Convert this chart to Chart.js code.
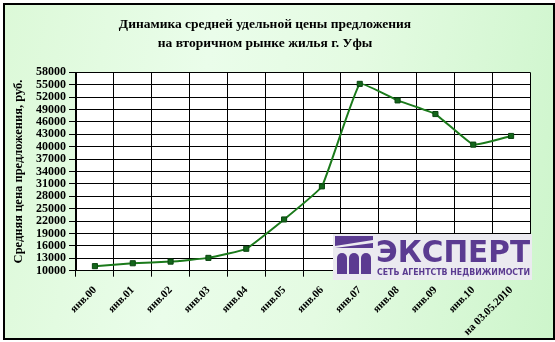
<!DOCTYPE html>
<html>
<head>
<meta charset="utf-8">
<script src="https://cdn.jsdelivr.net/npm/chart.js@4/dist/chart.umd.min.js"></script>
<style>
  body { margin: 0; background: #fff; }
  #box {
    position: absolute; left: 3px; top: 3px; width: 548px; height: 333px;
    border: 2px solid #000;
    background: linear-gradient(100deg, #dcf9d8 0%, #eafdea 35%, #e4fbe2 60%, #cdf5cb 100%);
  }
  #chart { position: absolute; left: 0; top: 0; }
</style>
</head>
<body>
<div id="box"></div>
<canvas id="chart" width="555" height="342"></canvas>
<script>
// data
const labels = ['янв.00', 'янв.01', 'янв.02', 'янв.03', 'янв.04', 'янв.05', 'янв.06',
  'янв.07', 'янв.08', 'янв.09', 'янв.10', 'на 03.05.2010'];
const prices = [11100, 11800, 12200, 13100, 15300, 22400, 30400, 55200, 51200, 47900, 40500, 42600];
const titleLines = ['Динамика средней удельной цены предложения', 'на вторичном рынке жилья г. Уфы'];
const yTitle = 'Средняя цена предложения, руб.';

const serif = "'Liberation Serif', 'Times New Roman', serif";

// white plot background
const plotBg = {
  id: 'plotBg',
  beforeDraw(chart) {
    const a = chart.chartArea, c = chart.ctx;
    c.save();
    c.fillStyle = '#fff';
    c.fillRect(a.left, a.top, a.right - a.left, a.bottom - a.top);
    c.restore();
  }
};

// agency logo in the corner
const logo = {
  id: 'logo',
  afterDraw(chart) {
    const c = chart.ctx;
    const x = 333, y = 234;
    c.save();
    c.fillStyle = '#ebeaf0';
    c.fillRect(x, y, 199, 46);
    c.fillStyle = '#5b3b91';
    // icon: top band + arches
    c.fillRect(x + 2, y + 2, 38, 12);
    c.fillStyle = '#ebeaf0';
    c.beginPath();
    c.moveTo(x + 2, y + 12); c.lineTo(x + 40, y + 6); c.lineTo(x + 40, y + 9); c.lineTo(x + 2, y + 14);
    c.fill();
    c.fillStyle = '#5b3b91';
    [x + 4, x + 16, x + 28].forEach(ax => {
      c.beginPath();
      c.moveTo(ax, y + 40);
      c.lineTo(ax, y + 24);
      c.arc(ax + 5, y + 24, 5, Math.PI, 0);
      c.lineTo(ax + 10, y + 40);
      c.fill();
    });
    c.font = "bold 31px 'DejaVu Sans', sans-serif";
    c.textBaseline = 'alphabetic';
    c.fillText('ЭКСПЕРТ', x + 43, y + 28, 154);
    c.font = "bold 8.5px 'DejaVu Sans', sans-serif";
    c.fillText('СЕТЬ АГЕНТСТВ НЕДВИЖИМОСТИ', x + 44, y + 41, 153);
    c.restore();
  }
};

new Chart(document.getElementById('chart'), {
  type: 'line',
  data: {
    labels: labels,
    datasets: [{
      data: prices,
      borderColor: '#1b7a1b',
      borderWidth: 2,
      tension: 0.1,
      pointStyle: 'rect',
      pointRadius: 3.6,
      pointBackgroundColor: '#13661a',
      pointBorderColor: '#0a4510',
      pointBorderWidth: 1
    }]
  },
  options: {
    responsive: false,
    devicePixelRatio: 1,
    animation: false,
    layout: { padding: { left: 0, right: 25, top: 0, bottom: 0 } },
    plugins: {
      legend: { display: false },
      tooltip: { enabled: false },
      title: {
        display: true,
        text: titleLines,
        color: '#000',
        font: { family: serif, size: 13.5, weight: 'bold', lineHeight: 1.4 },
        padding: { top: 15.5, bottom: 19 }
      }
    },
    scales: {
      x: {
        offset: true,
        grid: { color: '#000', offset: true, tickLength: 6, tickColor: '#000' },
        border: { color: '#000' },
        ticks: {
          color: '#000', autoSkip: false, maxRotation: 45, minRotation: 45, padding: 7,
          font: { family: serif, size: 11, weight: 'bold' }
        },
        afterFit(s) { s.height = 71.3; }
      },
      y: {
        min: 10000,
        max: 58000,
        grid: { color: '#000', tickLength: 7, tickColor: '#000' },
        border: { color: '#000' },
        ticks: {
          stepSize: 3000, autoSkip: false, color: '#000', padding: 3,
          font: { family: serif, size: 12, weight: 'bold' },
          callback: v => String(v)
        },
        title: {
          display: true, text: yTitle, color: '#000',
          font: { family: serif, size: 12.5, weight: 'bold' },
          padding: { top: 11.5, bottom: 0 }
        },
        afterFit(s) { s.width = 76; }
      }
    }
  },
  plugins: [plotBg, logo]
});
</script>
</body>
</html>
